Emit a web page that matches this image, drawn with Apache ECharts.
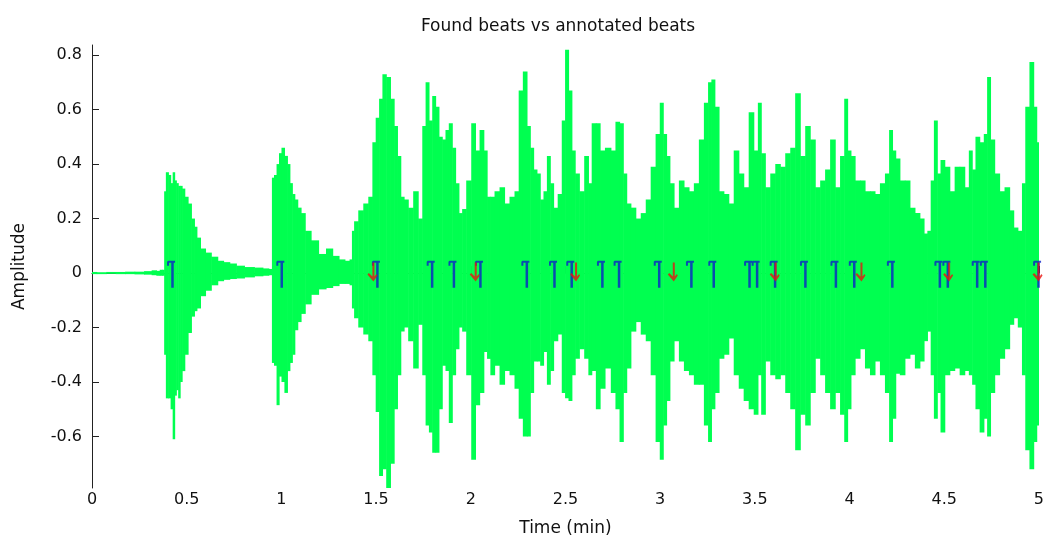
<!DOCTYPE html>
<html><head><meta charset="utf-8">
<script src="https://cdn.jsdelivr.net/npm/echarts@6/dist/echarts.min.js"></script>
<style>html,body{margin:0;padding:0;background:#fff}#c{width:1047px;height:543px}</style>
</head><body><div id="c"></div>
<script>
// Envelope of the waveform (time in minutes, upper and lower amplitude)
const time = [0.00,0.05,0.10,0.15,0.20,0.25,0.30,0.33,0.35,0.365,0.378,
0.384,0.396,0.41,0.42,0.432,0.44,0.45,0.46,0.47,0.481,0.498,0.516,0.533,0.548,0.559,0.586,0.612,0.647,0.68,0.709,0.745,0.779,0.83,0.884,0.92,0.946,
0.954,0.968,0.981,0.994,1.007,1.025,1.038,1.051,1.064,1.077,1.095,1.112,1.139,1.174,1.218,1.253,1.288,1.32,1.35,1.37,
1.375,1.393,1.419,1.446,1.472,1.489,1.507,1.525,1.542,1.565,1.586,1.604,1.621,1.639,1.656,1.683,1.709,1.735,1.753,1.77,1.788,1.805,1.823,1.84,1.858,1.875,1.893,1.911,1.928,1.946,1.963,1.989,2.016,2.033,2.06,2.077,2.095,2.112,2.139,2.165,2.191,2.218,2.244,2.262,2.288,
2.305,2.323,2.34,2.358,2.375,2.393,2.411,2.428,2.446,2.472,2.489,2.507,2.525,2.542,2.56,2.586,2.612,2.63,2.647,2.674,2.691,2.726,2.753,2.775,2.796,2.814,2.832,2.858,2.884,2.911,2.937,2.963,2.989,3.007,3.025,3.042,3.06,3.086,3.112,3.139,3.165,3.191,3.218,3.244,3.262,3.279,3.298,
3.323,3.349,3.375,3.402,3.428,3.454,3.481,3.507,3.525,3.542,3.568,3.595,3.621,3.647,3.674,3.7,3.726,3.753,3.779,3.805,3.832,3.858,3.884,3.911,3.937,3.963,3.981,3.998,4.016,4.042,4.068,4.095,4.121,4.147,4.174,4.2,4.218,4.235,4.252,
4.279,4.305,4.332,4.358,4.384,4.402,4.42,4.437,4.454,4.472,4.489,4.516,4.542,4.568,4.595,4.621,4.639,4.656,4.674,4.7,4.718,4.735,4.753,4.779,4.805,4.832,4.858,4.875,4.902,4.919,4.937,4.963,4.981,4.995];
const upper = [0.004,0.003,0.004,0.004,0.005,0.005,0.007,0.010,0.008,0.012,0.012,
0.30,0.37,0.36,0.33,0.37,0.34,0.33,0.32,0.32,0.31,0.28,0.255,0.20,0.17,0.13,0.09,0.075,0.06,0.045,0.04,0.035,0.027,0.022,0.02,0.017,0.015,
0.35,0.36,0.40,0.44,0.46,0.43,0.40,0.33,0.29,0.27,0.24,0.22,0.155,0.12,0.07,0.09,0.063,0.05,0.045,0.05,
0.155,0.19,0.23,0.255,0.28,0.48,0.57,0.64,0.73,0.72,0.64,0.54,0.43,0.28,0.27,0.24,0.30,0.20,0.54,0.70,0.56,0.65,0.61,0.50,0.49,0.525,0.55,0.46,0.33,0.22,0.235,0.34,0.55,0.45,0.525,0.45,0.28,0.28,0.30,0.315,0.255,0.28,0.30,0.67,0.74,
0.54,0.46,0.38,0.365,0.27,0.30,0.43,0.33,0.24,0.29,0.56,0.82,0.67,0.45,0.365,0.30,0.43,0.33,0.55,0.55,0.45,0.46,0.45,0.555,0.55,0.365,0.255,0.24,0.20,0.22,0.27,0.39,0.51,0.625,0.51,0.43,0.33,0.24,0.34,0.315,0.30,0.33,0.49,0.625,0.70,0.71,0.61,
0.30,0.29,0.255,0.45,0.365,0.315,0.59,0.45,0.625,0.44,0.315,0.365,0.40,0.39,0.44,0.46,0.66,0.43,0.54,0.49,0.315,0.34,0.38,0.49,0.315,0.43,0.64,0.45,0.43,0.34,0.34,0.30,0.30,0.29,0.33,0.365,0.525,0.45,0.42,
0.34,0.34,0.24,0.22,0.20,0.145,0.155,0.34,0.56,0.365,0.415,0.39,0.30,0.39,0.39,0.315,0.45,0.38,0.50,0.48,0.51,0.72,0.49,0.365,0.30,0.315,0.23,0.167,0.155,0.33,0.61,0.775,0.61,0.48];
const lower = [-0.004,-0.004,-0.003,-0.004,-0.004,-0.005,-0.006,-0.008,-0.010,-0.010,-0.010,
-0.30,-0.46,-0.46,-0.50,-0.61,-0.45,-0.43,-0.46,-0.40,-0.36,-0.30,-0.22,-0.16,-0.14,-0.13,-0.085,-0.065,-0.045,-0.03,-0.025,-0.022,-0.02,-0.016,-0.012,-0.010,-0.008,
-0.33,-0.34,-0.485,-0.38,-0.40,-0.44,-0.36,-0.33,-0.30,-0.21,-0.18,-0.15,-0.115,-0.08,-0.06,-0.055,-0.048,-0.04,-0.04,-0.045,
-0.13,-0.166,-0.20,-0.226,-0.25,-0.375,-0.51,-0.745,-0.72,-0.79,-0.70,-0.50,-0.375,-0.215,-0.20,-0.25,-0.35,-0.19,-0.375,-0.56,-0.585,-0.66,-0.66,-0.50,-0.34,-0.36,-0.55,-0.375,-0.28,-0.20,-0.215,-0.375,-0.685,-0.485,-0.44,-0.29,-0.315,-0.375,-0.34,-0.41,-0.36,-0.375,-0.425,-0.535,-0.60,
-0.60,-0.44,-0.325,-0.325,-0.34,-0.29,-0.41,-0.36,-0.25,-0.226,-0.44,-0.46,-0.47,-0.375,-0.315,-0.28,-0.315,-0.375,-0.36,-0.50,-0.425,-0.35,-0.44,-0.50,-0.62,-0.44,-0.35,-0.215,-0.18,-0.226,-0.25,-0.375,-0.62,-0.685,-0.56,-0.47,-0.325,-0.25,-0.325,-0.36,-0.375,-0.41,-0.41,-0.56,-0.62,-0.50,-0.44,
-0.315,-0.30,-0.24,-0.375,-0.425,-0.47,-0.50,-0.52,-0.375,-0.52,-0.325,-0.375,-0.39,-0.375,-0.44,-0.50,-0.65,-0.52,-0.56,-0.44,-0.315,-0.375,-0.44,-0.50,-0.44,-0.52,-0.62,-0.50,-0.375,-0.315,-0.28,-0.35,-0.375,-0.325,-0.375,-0.44,-0.62,-0.535,-0.37,
-0.375,-0.315,-0.30,-0.35,-0.325,-0.25,-0.215,-0.375,-0.535,-0.44,-0.585,-0.375,-0.36,-0.35,-0.375,-0.36,-0.375,-0.41,-0.50,-0.585,-0.535,-0.60,-0.44,-0.375,-0.315,-0.28,-0.19,-0.166,-0.20,-0.375,-0.65,-0.72,-0.62,-0.56];

// Beat times (minutes)
const annotatedBeats = [0.425,1.002,1.507,1.796,1.911,2.051,2.296,2.442,2.533,2.695,2.783,2.995,3.165,3.283,3.472,3.512,3.607,3.767,3.928,4.025,4.226,4.477,4.519,4.674,4.717,4.998];
const foundBeats = [1.486,2.026,2.556,3.072,3.61,4.063,4.526,4.998];

const yTickValues = [-0.6,-0.4,-0.2,0,0.2,0.4,0.6,0.8];
const xMin = 0, xMax = 5, xStep = 0.5;
const yMin = -0.789, yMax = 0.837;

const GREEN = '#00ff50';
const FONT = 'DejaVu Sans';
const TEXT = '#111';

const wave = time.map((t, i) => {
  const prev = i > 0 ? time[i - 1] : t;
  const next = i < time.length - 1 ? time[i + 1] : xMax;
  return [(prev + t) / 2, (t + next) / 2, upper[i], lower[i]];
});

const chart = echarts.init(document.getElementById('c'), null, {renderer: 'canvas'});
chart.setOption({
  animation: false,
  backgroundColor: '#fff',
  title: {
    text: 'Found beats vs annotated beats',
    left: 553, top: 13, textAlign: 'center',
    textStyle: {fontFamily: FONT, fontSize: 17, fontWeight: 'normal', color: TEXT}
  },
  grid: {left: 92, right: 5, top: 45, bottom: 55},
  xAxis: {
    type: 'value', min: xMin, max: xMax, interval: xStep,
    name: 'Time (min)', nameLocation: 'middle', nameGap: 32,
    nameTextStyle: {fontFamily: FONT, fontSize: 17, color: TEXT},
    axisLine: {lineStyle: {color: '#222', width: 1}},
    axisTick: {inside: true, length: 7, lineStyle: {color: '#222'}},
    axisLabel: {fontFamily: FONT, fontSize: 16, color: TEXT, margin: 4},
    splitLine: {show: false}
  },
  yAxis: {
    type: 'value', min: yMin, max: yMax,
    name: 'Amplitude', nameLocation: 'middle', nameGap: 64,
    nameTextStyle: {fontFamily: FONT, fontSize: 17, color: TEXT},
    axisLine: {show: true, lineStyle: {color: '#222', width: 1}},
    axisTick: {show: true, inside: true, length: 7, customValues: yTickValues, lineStyle: {color: '#222'}},
    axisLabel: {fontFamily: FONT, fontSize: 16, color: TEXT, margin: 10, customValues: yTickValues},
    splitLine: {show: false}
  },
  series: [
    {
      type: 'custom', clip: true, z: 2,
      encode: {x: [0, 1], y: [2, 3]},
      data: wave,
      renderItem: function (params, api) {
        const a = api.coord([api.value(0), api.value(2)]);
        const b = api.coord([api.value(1), api.value(3)]);
        return {
          type: 'rect',
          shape: {x: a[0], y: a[1], width: Math.max(b[0] - a[0], 1) + 0.6, height: b[1] - a[1]},
          style: {fill: GREEN}
        };
      }
    },
    {
      type: 'scatter', z: 4, clip: false,
      data: annotatedBeats.map(t => [t, 0]),
      symbol: 'path://M0 5 L0 1 L1 0 L8 0 L8 2 L6.7 2 L6.7 27 L4.2 27 L4.2 2 L2 2 L2 5 Z',
      symbolSize: [8, 27], symbolOffset: [-1.45, 1.2],
      itemStyle: {color: '#0b20c8'}
    },
    {
      type: 'scatter', z: 5, clip: false,
      data: foundBeats.map(t => [t, 0]),
      symbol: 'path://M0 12 L1.5 10.5 L5 14 L5 0 L7 0 L7 14 L9 11.5 L10 13 L6 19 Z',
      symbolSize: [10, 19], symbolOffset: [-1, -1],
      itemStyle: {color: '#e81410'}
    }
  ]
});
</script></body></html>
